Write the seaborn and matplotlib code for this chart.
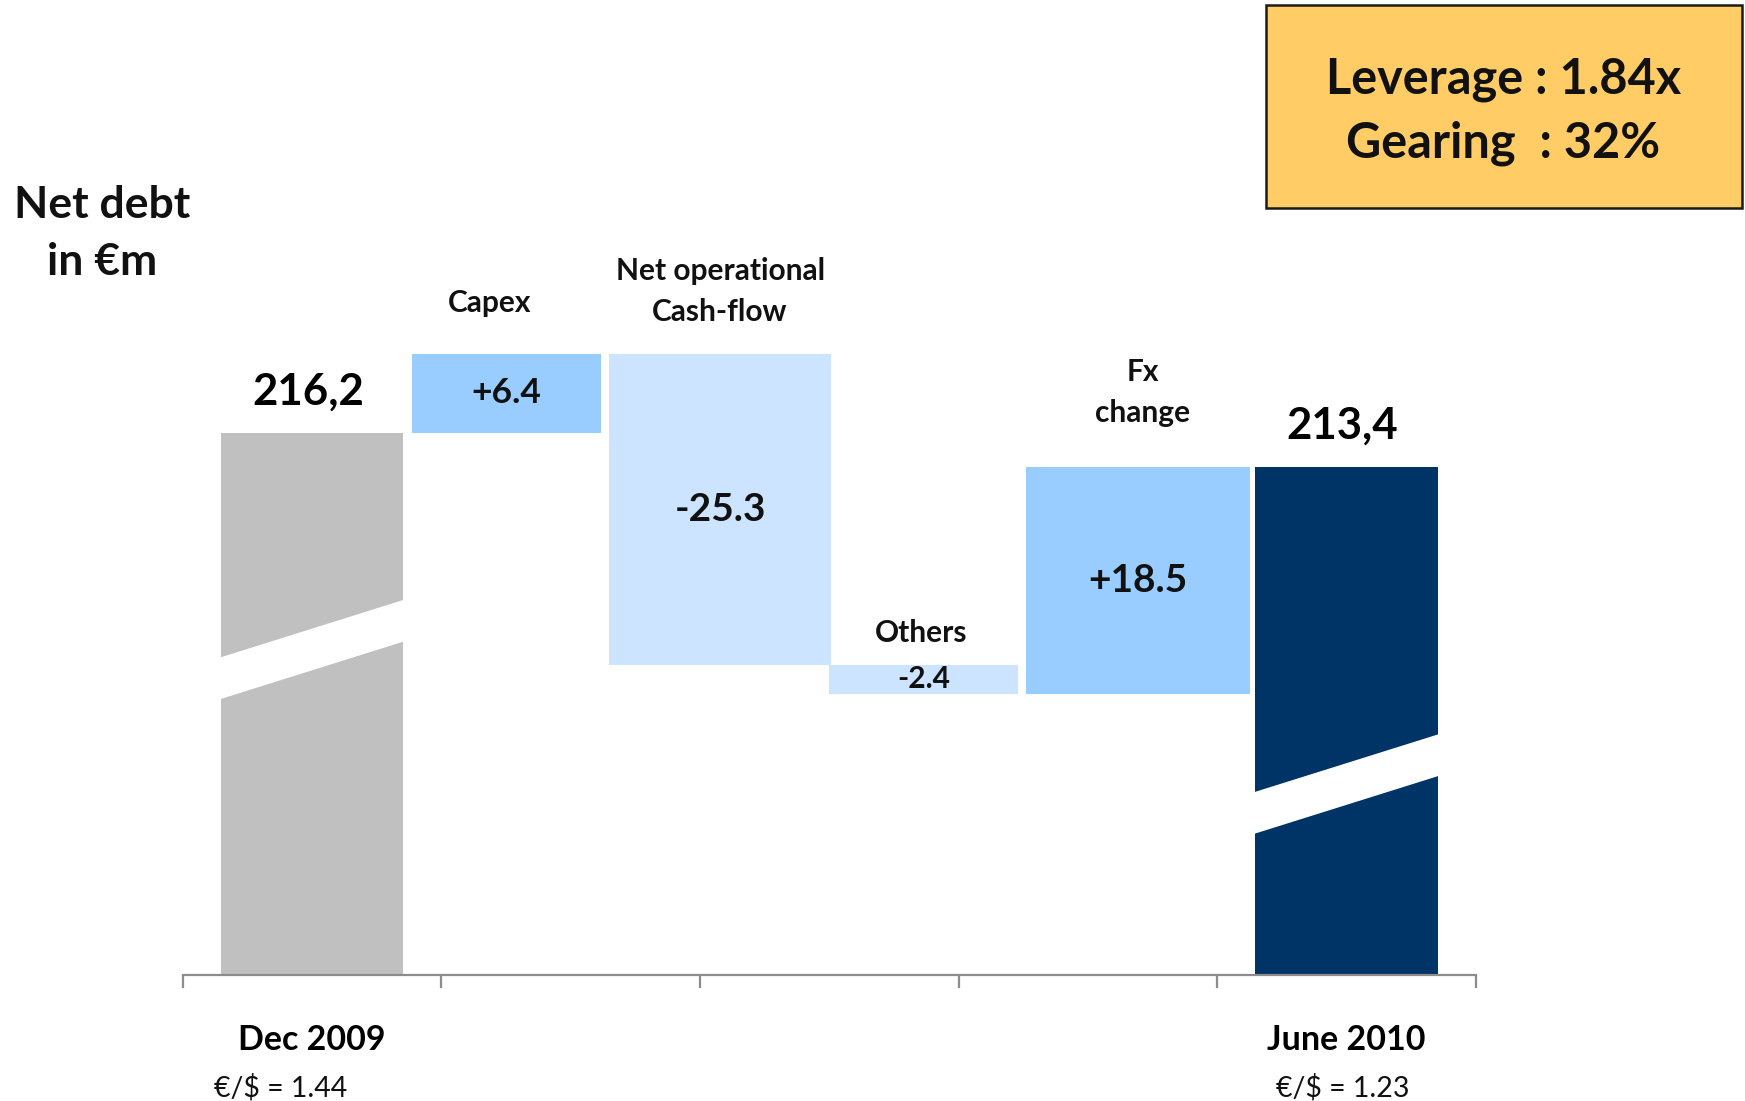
import matplotlib
matplotlib.use("Agg")
import matplotlib.pyplot as plt
import matplotlib.transforms as mtransforms
from matplotlib.patches import Polygon, Rectangle
import numpy as np
import seaborn as sns

# ---------------- data ----------------
title_lines = ["Net debt", "in €m"]
total_labels = ["Dec 2009", "June 2010"]
total_values = [216.2, 213.4]
total_fx = ["€/$ = 1.44", "€/$ = 1.23"]
step_labels = ["Capex", "Net operational\nCash-flow", "Others", "Fx\nchange"]
step_values = [6.4, -25.3, -2.4, 18.5]
box_lines = ["Leverage : 1.84x", "Gearing  : 32%"]

# ---------------- layout / style ----------------
total_pos = [0.5, 4.5]
total_width = 0.705
total_colors = ["#C0C0C0", "#003366"]
break_frac = [0.60, 0.376]           # where the axis-break band sits on each total bar
step_pos = [1.253, 2.078, 2.865, 3.693]
step_width = [0.731, 0.858, 0.731, 0.866]
step_colors = ["#99CCFF", "#CCE4FF", "#CCE4FF", "#99CCFF"]
step_value_fs = [25.5, 28, 21.5, 28]
step_label_dx = [-17, 0, -3, 5]      # pixels
step_label_dy = [42, 33, 22, 45]     # pixels above bar top (baseline of last line)
Y_MIN, Y_MAX = 172.0, 227.0

W, H = 1745, 1101
sns.set_theme(style="white")
plt.rcParams["font.family"] = ["Lato", "DejaVu Sans"]
plt.rcParams["font.weight"] = "bold"

fig = plt.figure(figsize=(W / 100, H / 100), dpi=100)
ax = fig.add_axes([182.5 / W, 1 - 975 / H, (1476 - 182.5) / W, (975 - 300) / H])
ax.set_xlim(0, 5)
ax.set_ylim(Y_MIN, Y_MAX)

TXT = "#111111"

# total bars (drawn from zero, clipped by the broken axis)
for x, v, c in zip(total_pos, total_values, total_colors):
    sns.barplot(x=[x], y=[v], native_scale=True, width=total_width, color=c,
                linewidth=0, saturation=1, ax=ax, zorder=2)

# floating step bars
level = total_values[0]
tops, mids = [], []
for x, d, w, c in zip(step_pos, step_values, step_width, step_colors):
    bottom = level if d > 0 else level + d
    sns.barplot(x=[x], y=[abs(d)], bottom=bottom, native_scale=True, width=w,
                color=c, linewidth=0, saturation=1, ax=ax, zorder=2)
    tops.append(bottom + abs(d))
    mids.append(bottom + abs(d) / 2)
    level += d

ax.set_xlim(0, 5)
ax.set_ylim(Y_MIN, Y_MAX)

# axis-break bands on the totals
thick, rise = 3.4, 4.8
for x, v, f in zip(total_pos, total_values, break_frac):
    m = Y_MIN + f * (v - Y_MIN)
    xl, xr = x - total_width / 2 - 0.01, x + total_width / 2 + 0.01
    poly = Polygon([(xl, m - thick / 2 - rise / 2), (xr, m - thick / 2 + rise / 2),
                    (xr, m + thick / 2 + rise / 2), (xl, m + thick / 2 - rise / 2)],
                   closed=True, facecolor="white", edgecolor="none", zorder=3)
    ax.add_patch(poly)

# total value labels
for x, v in zip(total_pos, total_values):
    ax.annotate(f"{v:.1f}".replace(".", ","), (x, v), xytext=(-4, 28),
                textcoords="offset pixels", ha="center", va="baseline",
                fontsize=31.5, fontweight="bold", color="black", annotation_clip=False)

# step value labels & names
for x, d, t, m, fs, lab, dx, dy in zip(step_pos, step_values, tops, mids, step_value_fs,
                                       step_labels, step_label_dx, step_label_dy):
    ax.text(x, m, f"{d:+.1f}", ha="center", va="center", fontsize=fs,
            fontweight="bold", color=TXT, zorder=4)
    ax.annotate(lab, (x, t), xytext=(dx, dy), textcoords="offset pixels",
                ha="center", va="baseline", fontsize=21.5, fontweight="bold",
                color=TXT, linespacing=1.55, annotation_clip=False)

# x axis styling
sns.despine(ax=ax, left=True, top=True, right=True)
ax.spines["bottom"].set_color("#8C8C8C")
ax.spines["bottom"].set_linewidth(1.6)
ax.set_xticks(np.arange(0, 6))
ax.set_xticklabels([])
ax.set_yticks([])
ax.tick_params(axis="x", direction="out", length=9.5, width=1.6, color="#8C8C8C", bottom=True)
ax.set_xlabel("")
ax.set_ylabel("")
ax.grid(False)

# bottom labels
trans = mtransforms.blended_transform_factory(ax.transData, fig.transFigure)
for x, lab, fx, dxfx in zip(total_pos, total_labels, total_fx, [-31, -4]):
    ax.text(x, 1 - 1050 / H, lab, transform=trans, ha="center", va="baseline",
            fontsize=24.5, fontweight="bold", color="black")
    ax.annotate(fx, (x, 1 - 1096 / H), xycoords=trans, xytext=(dxfx, 0),
                textcoords="offset pixels", ha="center", va="baseline",
                fontsize=20.5, fontweight="normal", color=TXT, annotation_clip=False)

# title
for line, yb in zip(title_lines, [218, 275]):
    fig.text(102 / W, 1 - yb / H, line, ha="center", va="baseline", fontsize=32,
             fontweight="bold", color=TXT)

# leverage box
fig.patches.append(Rectangle((1265.5 / W, 1 - 207.5 / H), (1742 - 1265.5) / W, 202 / H,
                             transform=fig.transFigure, facecolor="#FFCC66",
                             edgecolor="#1a1a1a", linewidth=1.8, zorder=1))
for line, yb in zip(box_lines, [94, 158]):
    fig.text(1503.5 / W, 1 - yb / H, line, ha="center", va="baseline", fontsize=35,
             fontweight="bold", color=TXT, zorder=2)

fig.savefig("out.png", dpi=100, facecolor="white")
